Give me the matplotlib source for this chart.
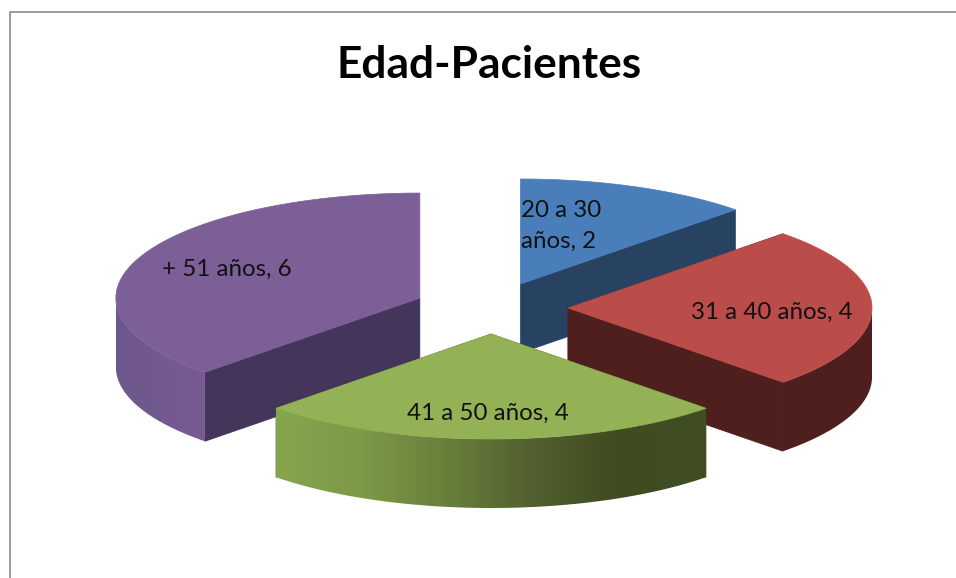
import matplotlib
matplotlib.use("Agg")
import matplotlib.pyplot as plt
from matplotlib.colors import LinearSegmentedColormap, to_rgb
from matplotlib.patches import Polygon
import numpy as np

# data
categories = ["20 a 30 años", "31 a 40 años", "41 a 50 años", "+ 51 años"]
values = [2, 4, 4, 6]
title = "Edad-Pacientes"

# style per slice
top_colors = ["#4A7EBB", "#BA4D4A", "#93B155", "#7D5F98"]
wall_colors = ["#284361", "#4F1F1E", "#404C22", "#44355A"]
arc_gradients = [
    ["#284361", "#284361"],
    ["#4F1F1E", "#4F1F1E"],
    ["#87A54D", "#7C9A47", "#677F3B", "#525F2E", "#3F4B20", "#414D23"],
    ["#6C578C", "#795B94"],
]
label_pos = [(521, 226), (772, 312), (488, 413), (227, 269)]
draw_order = [0, 3, 1, 2]

# pie geometry, in pixels
CX, CY = 491, 308
RX, RY = 304, 105
EX, EY = 77, 26
DEPTH = 69


def ellipse(cx, cy, a0, a1, n=120):
    t = np.radians(np.linspace(a0, a1, n))
    return np.column_stack([cx + RX * np.sin(t), cy - RY * np.cos(t)])


def draw_slice(ax, i, a0, a1):
    mid = np.radians((a0 + a1) / 2)
    cx = CX + EX * np.sin(mid)
    cy = CY - EY * np.cos(mid)
    apex = np.array([[cx, cy]])
    down = np.array([0, DEPTH])
    rim = ellipse(cx, cy, a0, a1)

    # the two straight walls, skip one seen exactly edge on
    for p in (rim[0], rim[-1]):
        if abs(p[0] - cx) < 1:
            continue
        quad = np.array([apex[0], p, p + down, apex[0] + down])
        ax.add_patch(Polygon(quad, closed=True, fc=wall_colors[i], ec=wall_colors[i], lw=0.5, zorder=2 + draw_order.index(i)))

    # curved wall, only the front part shows
    lo, hi = max(a0, 90), min(a1, 270)
    if hi > lo:
        front = ellipse(cx, cy, lo, hi)
        outline = np.vstack([front, (front + down)[::-1]])
        patch = Polygon(outline, closed=True, fc="none", ec="none")
        ax.add_patch(patch)
        cmap = LinearSegmentedColormap.from_list("arc", [to_rgb(c) for c in arc_gradients[i]])
        x0, x1 = outline[:, 0].min(), outline[:, 0].max()
        y0, y1 = outline[:, 1].min(), outline[:, 1].max()
        grad = np.linspace(0, 1, 256).reshape(1, -1)
        # left to right shade, clipped to the wall
        im = ax.imshow(grad, cmap=cmap, extent=[x0, x1, y1, y0], aspect="auto", zorder=2.5 + draw_order.index(i))
        im.set_clip_path(patch)

    top = np.vstack([apex, rim])
    ax.add_patch(Polygon(top, closed=True, fc=top_colors[i], ec=top_colors[i], lw=0.5, zorder=2.7 + draw_order.index(i)))


fig = plt.figure(figsize=(9.56, 5.78), dpi=100)
ax = fig.add_axes([0, 0, 1, 1])

edges = np.cumsum([0] + values) / sum(values) * 360
for i in draw_order:
    draw_slice(ax, i, edges[i], edges[i + 1])

ax.set_xlim(0, 956)
ax.set_ylim(578, 0)
ax.axis("off")

# chart frame, cut by the screenshot on the right and at the bottom
ax.plot([10, 10, 956], [578, 12, 12], color="#8A8A8A", lw=1.2, zorder=1)

ax.text(489.5, 65, title, family="Lato", weight="bold", fontsize=31.9, ha="center", va="center", zorder=20)

for i, name in enumerate(categories):
    text = f"{name}, {values[i]}"
    ha = "center"
    if i == 0:
        text = "20 a 30\naños, 2"
        ha = "left"
    ax.text(label_pos[i][0], label_pos[i][1], text, family="Lato", fontsize=17.4, ha=ha, va="center",
            color="#111111", linespacing=1.58, zorder=20)

fig.savefig("out.png", dpi=100)
